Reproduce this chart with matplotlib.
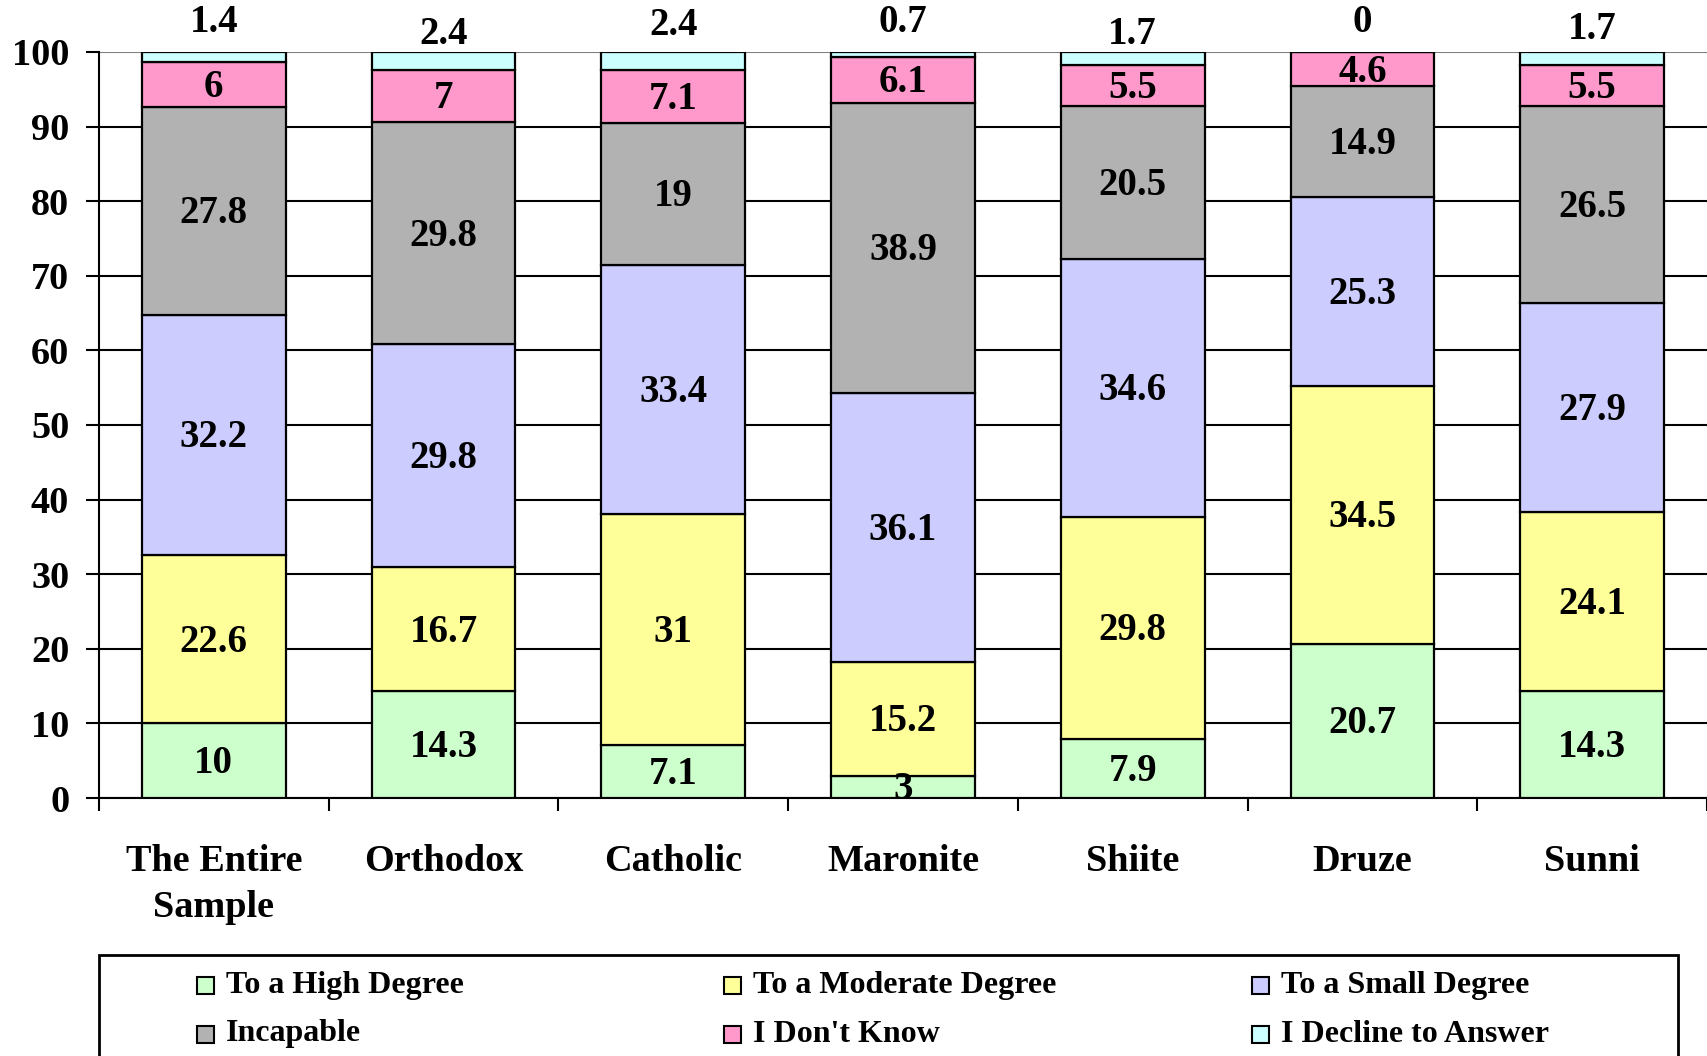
import numpy as np
import matplotlib
matplotlib.use('Agg')
import matplotlib.pyplot as plt
from matplotlib.patches import Rectangle

plt.rcParams['font.family'] = ['Liberation Serif', 'DejaVu Serif']
plt.rcParams['font.weight'] = 'bold'

# Data
categories = ['The Entire\nSample', 'Orthodox', 'Catholic', 'Maronite', 'Shiite', 'Druze', 'Sunni']
series_names = ['To a High Degree', 'To a Moderate Degree', 'To a Small Degree',
                'Incapable', "I Don't Know", 'I Decline to Answer']
high = [10, 14.3, 7.1, 3, 7.9, 20.7, 14.3]
moderate = [22.6, 16.7, 31, 15.2, 29.8, 34.5, 24.1]
small = [32.2, 29.8, 33.4, 36.1, 34.6, 25.3, 27.9]
incapable = [27.8, 29.8, 19, 38.9, 20.5, 14.9, 26.5]
dont_know = [6, 7, 7.1, 6.1, 5.5, 4.6, 5.5]
decline = [1.4, 2.4, 2.4, 0.7, 1.7, 0, 1.7]

colors = ['#CCFFCC', '#FFFF99', '#CCCCFF', '#B2B2B2', '#FF99CC', '#CCFFFF']
# where the small top labels sit (data units)
decline_label_y = [104.0, 102.4, 103.6, 104.0, 102.4, 104.0, 103.0]

fig = plt.figure(figsize=(17.07, 10.56), dpi=100)
ax = fig.add_axes([0.058, 0.2443, 0.942, 0.7065])

x = np.arange(len(categories))
width = 0.626
bottom = np.zeros(len(categories))
all_series = [high, moderate, small, incapable, dont_know, decline]
for i, vals in enumerate(all_series):
    vals = np.array(vals, dtype=float)
    ax.bar(x, vals, width, bottom=bottom, color=colors[i], edgecolor='black',
           linewidth=1.6, zorder=3)
    for j, v in enumerate(vals):
        if i == 5:
            ax.text(x[j], decline_label_y[j], f'{v:g}', ha='center', va='center',
                    fontsize=28, fontweight='bold', clip_on=False)
        else:
            ax.text(x[j], bottom[j] + v / 2 - 0.4, f'{v:g}', ha='center', va='center',
                    fontsize=28, fontweight='bold', zorder=5)
    bottom += vals

ax.set_xlim(-0.5, len(categories) - 0.5)
ax.set_ylim(0, 100)
ax.set_yticks(np.arange(0, 101, 10))
ax.yaxis.grid(True, color='black', linewidth=1.5, zorder=0)
ax.get_ygridlines()[-1].set_color('#808080')
ax.set_axisbelow(True)

ax.set_xticks(x)
ax.set_xticklabels(categories, fontsize=27.5, fontweight='bold', linespacing=1.4)
ax.set_xticks(np.arange(-0.5, len(categories)), minor=True)
ax.tick_params(axis='x', which='major', length=0, pad=33)
ax.tick_params(axis='x', which='minor', length=9.5, width=1.5, direction='out')
ax.tick_params(axis='y', length=9.5, width=1.5, direction='out', pad=12, labelsize=27.5)
for lab in ax.get_yticklabels():
    lab.set_fontweight('bold')

for s in ['top', 'right']:
    ax.spines[s].set_visible(False)
ax.spines['left'].set_linewidth(1.5)
ax.spines['bottom'].set_linewidth(1.5)

# legend drawn by hand on an Excel-like grid
W, H = 1707.0, 1056.0
fig.patches.append(Rectangle((99 / W, -0.1), (1678 - 99) / W, 0.1 + 1 - 955 / H,
                             transform=fig.transFigure, fill=False,
                             edgecolor='black', linewidth=2))
col_x = [197, 724, 1252]
row_y = [985, 1034]
box = 17
for i, name in enumerate(series_names):
    cx = col_x[i % 3]
    cy = row_y[i // 3]
    fig.patches.append(Rectangle((cx / W, 1 - (cy + box / 2) / H), box / W, box / H,
                                 transform=fig.transFigure, facecolor=colors[i],
                                 edgecolor='black', linewidth=1.5))
    fig.text((cx + box + 12) / W, 1 - cy / H, name, ha='left', va='center',
             fontsize=23, fontweight='bold')

fig.savefig('out.png', dpi=100)
